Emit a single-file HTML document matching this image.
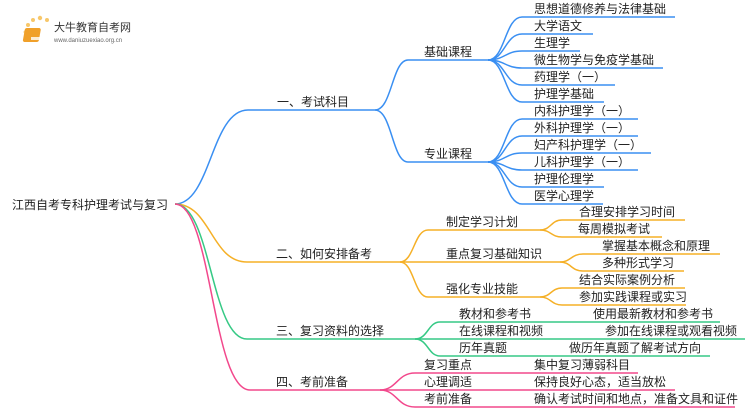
<!DOCTYPE html>
<html><head><meta charset="utf-8"><style>
body{margin:0;background:#fff}
svg{display:block}
text{font-family:"Liberation Sans","Noto Sans CJK SC",sans-serif;font-size:12px;fill:#222}
path{fill:none;stroke-width:1.5}
.b{stroke:#3a8ff2}.o{stroke:#f5b027}.g{stroke:#36c985}.p{stroke:#f2488c}
</style></head><body>
<svg width="750" height="410" viewBox="0 0 750 410" xmlns="http://www.w3.org/2000/svg">
<!-- logo -->
<g>
<circle cx="28" cy="25" r="2" fill="#f7c76a"/><circle cx="33" cy="20" r="2" fill="#f7c76a"/><circle cx="40" cy="18" r="2.2" fill="#f7c76a"/><circle cx="47" cy="20" r="2" fill="#f7c76a"/><circle cx="25" cy="32" r="1.5" fill="#f7d48a"/><circle cx="26" cy="40" r="1.5" fill="#f7d48a"/>
<rect x="30" y="28" width="16" height="14" rx="2" fill="#f0a02a" transform="skewX(-10)"/>
<rect x="31" y="37" width="13" height="3" fill="#fff" opacity="0.8"/>
<text x="54" y="31" style="font-size:11px;fill:#333">大牛教育自考网</text>
<text x="54" y="42" style="font-size:6px;fill:#666">www.daniuzuexiao.org.cn</text>
</g>
<!-- root -->
<text x="12" y="209">江西自考专科护理考试与复习</text>
<!-- blue -->
<path class="b" d="M175,204 C211,204 211,110 248,110 L375,110"/>
<text x="277" y="106">一、考试科目</text>
<path class="b" d="M375,110 C392,110 392,60 408,60 L488,60"/>
<path class="b" d="M375,110 C392,110 392,162 408,162 L488,162"/>
<text x="424" y="56">基础课程</text>
<text x="424" y="158">专业课程</text>
<path class="b" d="M488,60 C505,60 505,17 522,17 L675,17"/>
<path class="b" d="M488,60 C505,60 505,34 522,34 L593,34"/>
<path class="b" d="M488,60 C505,60 505,51 522,51 L580,51"/>
<path class="b" d="M488,60 C505,60 505,68 522,68 L663,68"/>
<path class="b" d="M488,60 C505,60 505,85 522,85 L615,85"/>
<path class="b" d="M488,60 C505,60 505,102 522,102 L604,102"/>
<text x="534" y="13">思想道德修养与法律基础</text>
<text x="534" y="30">大学语文</text>
<text x="534" y="47">生理学</text>
<text x="534" y="64">微生物学与免疫学基础</text>
<text x="534" y="81">药理学（一）</text>
<text x="534" y="98">护理学基础</text>
<path class="b" d="M488,162 C505,162 505,119 522,119 L638,119"/>
<path class="b" d="M488,162 C505,162 505,136 522,136 L638,136"/>
<path class="b" d="M488,162 C505,162 505,153 522,153 L651,153"/>
<path class="b" d="M488,162 C505,162 505,170 522,170 L638,170"/>
<path class="b" d="M488,162 C505,162 505,187 522,187 L604,187"/>
<path class="b" d="M488,162 C505,162 505,204 522,204 L603,204"/>
<text x="534" y="115">内科护理学（一）</text>
<text x="534" y="132">外科护理学（一）</text>
<text x="534" y="149">妇产科护理学（一）</text>
<text x="534" y="166">儿科护理学（一）</text>
<text x="534" y="183">护理伦理学</text>
<text x="534" y="200">医学心理学</text>
<!-- orange -->
<path class="o" d="M175,204 C211,204 211,262 247,262 L400,262"/>
<text x="276" y="258">二、如何安排备考</text>
<path class="o" d="M400,262 C414,262 414,230 428,230 L540,230"/>
<path class="o" d="M400,262 L560,262"/>
<path class="o" d="M400,262 C414,262 414,297 428,297 L540,297"/>
<text x="446" y="226">制定学习计划</text>
<text x="446" y="258">重点复习基础知识</text>
<text x="446" y="293">强化专业技能</text>
<path class="o" d="M540,230 C551,230 551,220 562,220 L685,220"/>
<path class="o" d="M540,230 C551,230 551,237 562,237 L662,237"/>
<text x="579" y="216">合理安排学习时间</text>
<text x="578" y="233">每周模拟考试</text>
<path class="o" d="M560,262 C571,262 571,254 583,254 L720,254"/>
<path class="o" d="M560,262 C571,262 571,271 583,271 L684,271"/>
<text x="602" y="250">掌握基本概念和原理</text>
<text x="602" y="267">多种形式学习</text>
<path class="o" d="M540,297 C551,297 551,288 562,288 L685,288"/>
<path class="o" d="M540,297 C551,297 551,305 562,305 L686,305"/>
<text x="579" y="284">结合实际案例分析</text>
<text x="579" y="301">参加实践课程或实习</text>
<!-- green -->
<path class="g" d="M175,204 C211,204 211,339 247,339 L415,339"/>
<text x="276" y="335">三、复习资料的选择</text>
<path class="g" d="M415,339 C428,339 428,322 440,322 L720,322"/>
<path class="g" d="M415,339 L745,339"/>
<path class="g" d="M415,339 C428,339 428,356 440,356 L710,356"/>
<text x="459" y="318">教材和参考书</text>
<text x="593" y="318">使用最新教材和参考书</text>
<text x="459" y="335">在线课程和视频</text>
<text x="605" y="335">参加在线课程或观看视频</text>
<text x="459" y="352">历年真题</text>
<text x="569" y="352">做历年真题了解考试方向</text>
<!-- pink -->
<path class="p" d="M175,204 C212,204 212,390 250,390 L380,390"/>
<text x="276" y="386">四、考前准备</text>
<path class="p" d="M380,390 C397,390 397,373 415,373 L638,373"/>
<path class="p" d="M380,390 L675,390"/>
<path class="p" d="M380,390 C397,390 397,407 415,407 L735,407"/>
<text x="424" y="369">复习重点</text>
<text x="534" y="369">集中复习薄弱科目</text>
<text x="424" y="386">心理调适</text>
<text x="534" y="386">保持良好心态，适当放松</text>
<text x="424" y="403">考前准备</text>
<text x="534" y="403">确认考试时间和地点，准备文具和证件</text>
</svg>
</body></html>
